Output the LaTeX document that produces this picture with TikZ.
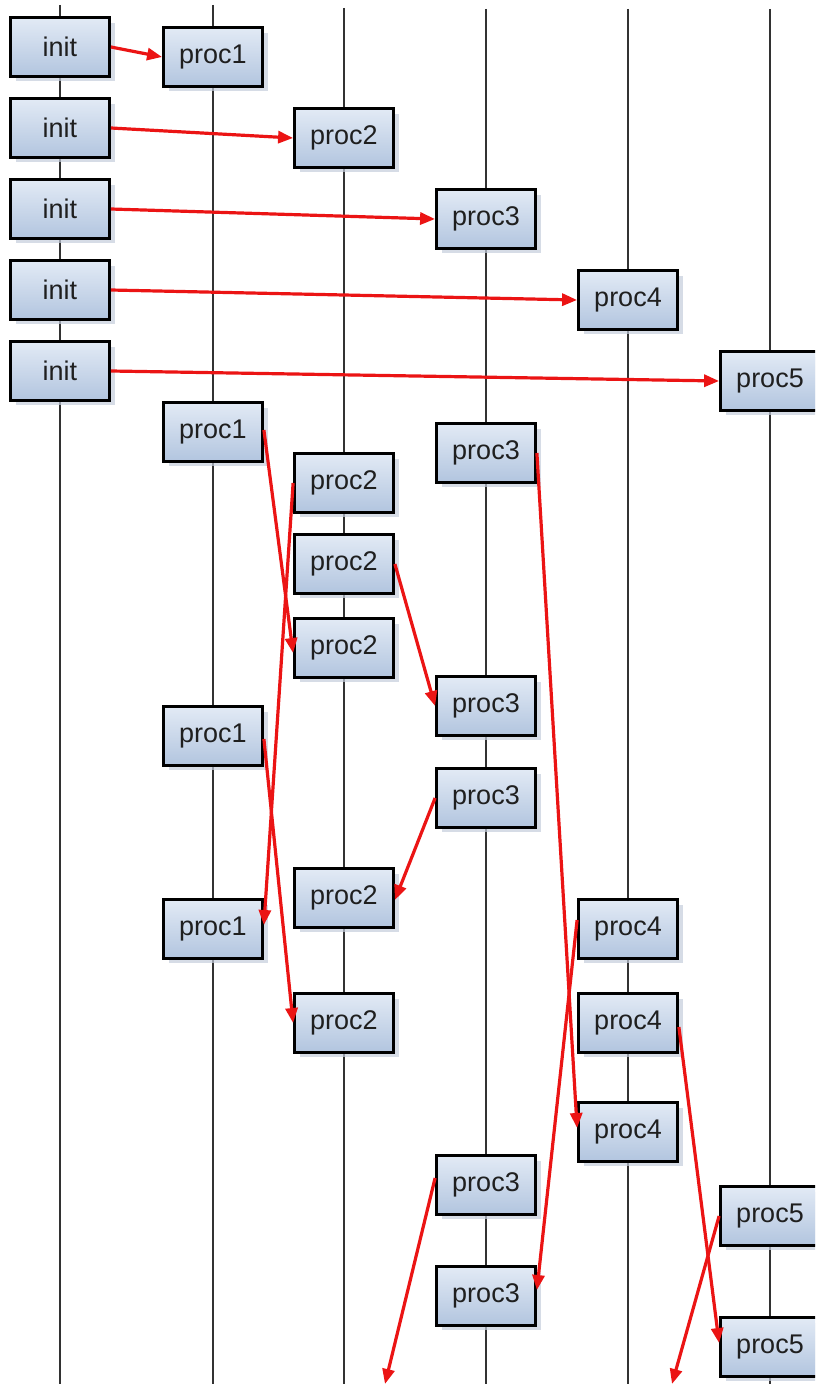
\documentclass[tikz,border=0pt]{standalone}
\usepackage{fontspec}
\setmainfont{Liberation Sans}
\usetikzlibrary{arrows.meta,shadows}
\definecolor{boxtop}{RGB}{226,234,245}
\definecolor{boxbot}{RGB}{178,197,223}
\definecolor{shade}{RGB}{196,205,220}
\definecolor{lifeline}{RGB}{50,50,50}
\definecolor{msgred}{RGB}{235,20,20}
\tikzset{
  procbox/.style={draw=black, line width=2.8pt, rectangle,
    minimum width=99pt, minimum height=58.5pt, inner sep=0pt,
    top color=boxtop, bottom color=boxbot,
    font=\fontsize{27}{32}\selectfont, text=black!88,
    drop shadow={shadow xshift=5pt, shadow yshift=-5pt, fill=shade, opacity=0.7}},
  lifeline/.style={draw=lifeline, line width=1.1pt},
  msg/.style={draw=msgred, line width=3.2pt,
    -{Triangle[length=15pt,width=12pt]}}
}
\begin{document}
\begin{tikzpicture}[x=1pt,y=-1pt]
\useasboundingbox (0,0) rectangle (815,1386);
\clip (0,0) rectangle (815,1386);

% lifelines, one per process column
\foreach \lx/\ly in {60/5, 213/5, 344/8, 486/9, 628/9, 770/9}{
  \coordinate (top\lx) at (\lx,\ly);
  \coordinate (bot\lx) at (\lx,1384);
  \draw[lifeline] (top\lx) -- (bot\lx);
}

% initialisation column
\node[procbox] (i1) at (60,47)  {init};
\node[procbox] (i2) at (60,128) {init};
\node[procbox] (i3) at (60,209) {init};
\node[procbox] (i4) at (60,290) {init};
\node[procbox] (i5) at (60,371) {init};

% first activation of each process
\node[procbox] (p1a) at (213,57)  {proc1};
\node[procbox] (p2a) at (344,138) {proc2};
\node[procbox] (p3a) at (486,219) {proc3};
\node[procbox] (p4a) at (628,300) {proc4};
\node[procbox] (p5a) at (770,381) {proc5};

% later activations
\node[procbox] (p1b) at (213,432)  {proc1};
\node[procbox] (p3b) at (486,453)  {proc3};
\node[procbox] (p2b) at (344,483)  {proc2};
\node[procbox] (p2c) at (344,564)  {proc2};
\node[procbox] (p2d) at (344,648)  {proc2};
\node[procbox] (p3c) at (486,706)  {proc3};
\node[procbox] (p1c) at (213,736)  {proc1};
\node[procbox] (p3d) at (486,798)  {proc3};
\node[procbox] (p2e) at (344,898)  {proc2};
\node[procbox] (p1d) at (213,929)  {proc1};
\node[procbox] (p4b) at (628,929)  {proc4};
\node[procbox] (p2f) at (344,1023) {proc2};
\node[procbox] (p4c) at (628,1023) {proc4};
\node[procbox] (p4d) at (628,1132) {proc4};
\node[procbox] (p3e) at (486,1185) {proc3};
\node[procbox] (p5b) at (770,1216) {proc5};
\node[procbox] (p3f) at (486,1296) {proc3};
\node[procbox] (p5c) at (770,1347) {proc5};

% loose ends leaving the bottom edge
\coordinate (e1) at (385,1384);
\coordinate (e2) at (672,1384);

% start-up messages
\draw[msg] (i1.east) -- (p1a.west);
\draw[msg] (i2.east) -- (p2a.west);
\draw[msg] (i3.east) -- (p3a.west);
\draw[msg] (i4.east) -- (p4a.west);
\draw[msg] (i5.east) -- (p5a.west);

% exchanged messages
\draw[msg] ([yshift=2pt]p1b.east) -- ([yshift=-5pt]p2d.west);
\draw[msg] (p2b.west) -- ([yshift=4pt]p1d.east);
\draw[msg] (p2c.east) -- (p3c.west);
\draw[msg] (p3b.east) -- ([yshift=4pt]p4d.west);
\draw[msg] ([yshift=-3pt]p1c.east) -- (p2f.west);
\draw[msg] (p3d.west) -- ([yshift=-2pt]p2e.east);
\draw[msg] ([yshift=9pt]p4b.west) -- ([yshift=6pt]p3f.east);
\draw[msg] ([yshift=-4pt]p4c.east) -- ([yshift=4pt]p5c.west);
\draw[msg] ([yshift=7pt]p3e.west) -- (e1);
\draw[msg] (p5b.west) -- (e2);
\end{tikzpicture}
\end{document}
